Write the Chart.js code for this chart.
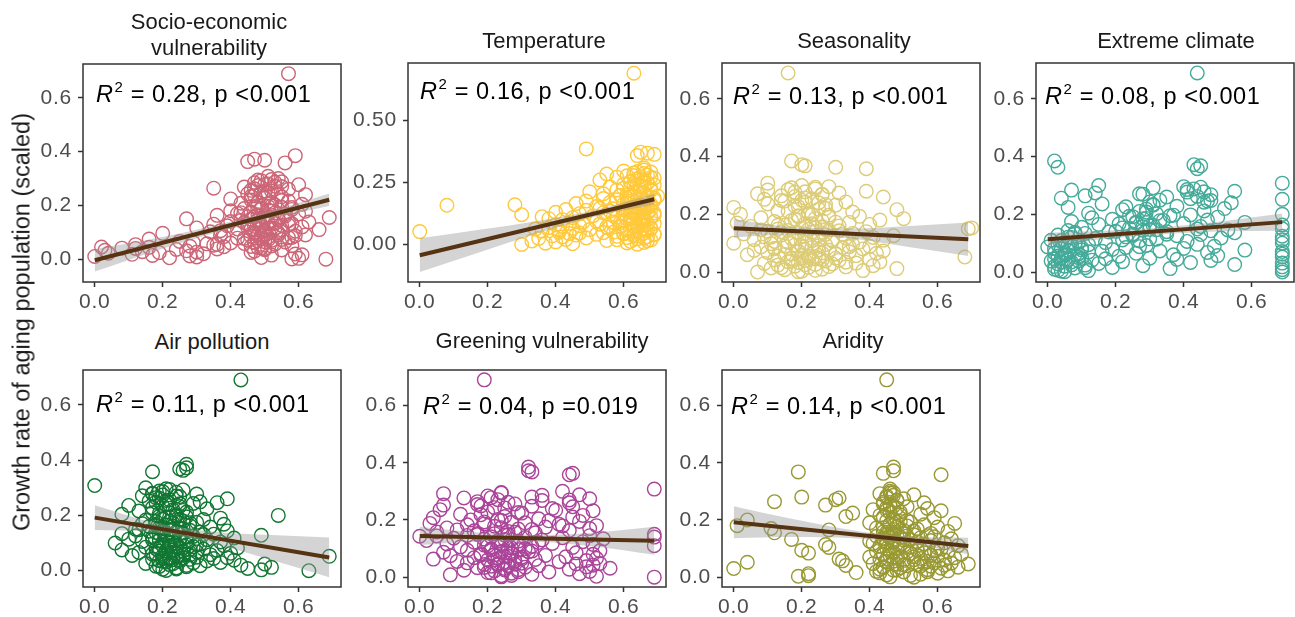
<!DOCTYPE html>
<html><head><meta charset="utf-8">
<script src="https://cdn.jsdelivr.net/npm/chart.js@4"></script>
<style>
html,body{margin:0;padding:0;background:#fff;width:1295px;height:617px;overflow:hidden;position:relative;font-family:"Liberation Sans",Arial,sans-serif;}
canvas{position:absolute;}
.title{position:absolute;font-size:22px;color:#1a1a1a;text-align:center;white-space:nowrap;transform:translate(-50%,-50%);line-height:26px;}
.ann{position:absolute;font-size:23.5px;letter-spacing:0.6px;color:#000;white-space:nowrap;transform:translateY(-50%);line-height:26px;}
.ann sup{font-size:15px;vertical-align:0;position:relative;top:-10px;margin-left:1px;}
.ytitle{position:absolute;left:22px;top:322px;font-size:23.5px;color:#1a1a1a;white-space:nowrap;transform:translate(-50%,-50%) rotate(-90deg);}
</style></head><body>
<script>
// shared response variable (growth rate of aging population, scaled)
const yGrowth = [
0.000,0.003,0.005,0.008,0.010,0.012,0.014,0.016,0.018,0.020,
0.022,0.024,0.026,0.028,0.030,0.031,0.033,0.035,0.036,0.038,
0.040,0.041,0.042,0.044,0.045,0.046,0.047,0.048,0.049,0.050,
0.052,0.054,0.055,0.057,0.058,0.060,0.062,0.063,0.065,0.066,
0.068,0.070,0.071,0.073,0.075,0.076,0.078,0.080,0.082,0.084,
0.085,0.087,0.089,0.090,0.092,0.094,0.096,0.098,
0.100,0.102,0.104,0.106,0.108,0.110,0.112,0.114,0.116,0.118,
0.120,0.122,0.124,0.126,0.128,0.130,0.132,0.134,0.136,0.138,
0.140,0.141,0.143,0.144,0.145,0.146,0.148,0.149,
0.150,0.153,0.155,0.158,0.160,0.163,0.165,0.168,0.170,0.172,
0.175,0.178,0.180,0.183,0.185,0.188,0.190,0.193,0.195,0.198,
0.200,0.204,0.208,0.212,0.216,0.220,0.224,0.228,0.232,0.236,0.240,0.243,0.246,0.249,
0.252,0.256,0.260,0.264,0.268,0.271,0.274,0.277,0.280,0.284,0.288,0.292,0.296,0.300,
0.308,0.358,0.363,0.368,0.372,0.385,0.690,
0.001,0.006,0.015,0.019,0.025,0.034,0.039,0.043,
0.056,0.061,0.064,0.072,0.077,0.081,0.088,0.091,0.095,
0.103,0.109,0.111,0.115,0.121,0.127,0.131,0.133,0.139,0.147,
0.152,0.157,0.162,0.167,0.173,0.179,0.186,0.192,0.197,
0.202,0.210,0.218,0.226,0.234,0.242,0.248,
0.254,0.262,0.270,0.278,0.286,0.294
];
const xSocio = [
0.68,0.60,0.22,0.30,0.00,0.28,0.17,0.61,0.11,0.32,
0.04,0.19,0.30,0.14,0.47,0.27,0.03,0.50,0.24,0.36,
0.12,0.08,0.49,0.16,0.02,0.38,0.46,0.28,0.52,0.58,
0.35,0.12,0.36,0.33,0.44,0.40,0.29,0.47,0.50,0.25,
0.48,0.52,0.45,0.55,0.16,0.49,0.42,0.57,0.51,0.38,
0.46,0.59,0.37,0.62,0.48,0.50,0.20,0.54,
0.47,0.34,0.59,0.37,0.50,0.66,0.42,0.53,0.30,0.45,
0.61,0.47,0.39,0.55,0.49,0.35,0.58,0.51,0.44,0.63,
0.40,0.52,0.57,0.43,0.48,0.54,0.50,0.46,
0.27,0.50,0.69,0.45,0.56,0.36,0.48,0.60,0.42,0.53,
0.46,0.62,0.40,0.51,0.58,0.44,0.49,0.55,0.47,0.52,
0.48,0.61,0.43,0.52,0.57,0.46,0.40,0.50,0.55,0.47,0.62,0.45,0.51,0.49,
0.50,0.46,0.57,0.35,0.44,0.53,0.48,0.60,0.51,0.47,0.55,0.49,0.52,0.54,
0.51,0.56,0.45,0.50,0.47,0.59,0.57,
0.58,0.49,0.52,0.59,0.46,0.55,0.50,0.48,
0.53,0.47,0.56,0.51,0.44,0.58,0.49,0.54,0.47,
0.50,0.55,0.46,0.52,0.49,0.57,0.45,0.53,0.51,0.48,
0.54,0.47,0.50,0.56,0.43,0.52,0.49,0.58,0.51,
0.53,0.48,0.55,0.50,0.46,0.54,0.49,
0.52,0.47,0.55,0.50,0.53,0.48
];
const xTemp = [
0.30,0.45,0.37,0.66,0.40,0.62,0.33,0.55,0.68,0.43,
0.64,0.35,0.49,0.61,0.42,0.67,0.58,0.39,0.65,0.46,
0.63,0.52,0.69,0.44,0.60,0.47,0.66,0.54,0.41,0.57,
0.00,0.36,0.63,0.41,0.67,0.50,0.34,0.61,0.45,0.68,
0.38,0.55,0.64,0.42,0.59,0.47,0.66,0.40,0.53,0.69,
0.44,0.62,0.57,0.48,0.65,0.52,0.60,0.66,
0.42,0.62,0.38,0.66,0.45,0.58,0.36,0.64,0.51,0.69,
0.30,0.60,0.47,0.67,0.54,0.40,0.63,0.56,0.65,0.49,
0.68,0.43,0.61,0.57,0.66,0.53,0.64,0.62,
0.64,0.52,0.68,0.08,0.28,0.60,0.46,0.66,0.56,0.63,
0.49,0.69,0.58,0.65,0.54,0.61,0.67,0.62,0.70,0.59,
0.61,0.54,0.66,0.50,0.64,0.58,0.68,0.62,0.56,0.65,0.69,0.60,0.63,0.67,
0.62,0.66,0.53,0.64,0.69,0.58,0.65,0.61,0.67,0.55,0.63,0.68,0.60,0.66,
0.66,0.64,0.69,0.67,0.65,0.49,0.63,
0.64,0.61,0.67,0.58,0.66,0.63,0.69,0.60,
0.65,0.62,0.68,0.56,0.64,0.67,0.59,0.66,0.63,
0.61,0.68,0.65,0.57,0.64,0.69,0.62,0.66,0.60,0.67,
0.63,0.65,0.68,0.61,0.66,0.64,0.69,0.62,0.67,
0.65,0.63,0.68,0.60,0.66,0.64,0.67,
0.62,0.65,0.68,0.63,0.66,0.64
];
const xSeason = [
0.07,0.20,0.38,0.15,0.26,0.48,0.11,0.22,0.33,0.18,
0.41,0.13,0.24,0.29,0.09,0.36,0.19,0.43,0.16,0.27,
0.21,0.31,0.12,0.40,0.23,0.25,0.17,0.30,0.20,0.22,
0.68,0.24,0.13,0.36,0.20,0.04,0.30,0.17,0.42,0.26,
0.10,0.34,0.19,0.44,0.06,0.28,0.21,0.38,0.12,0.32,
0.23,0.08,0.40,0.15,0.25,0.18,0.35,0.11,
0.00,0.21,0.37,0.12,0.29,0.44,0.06,0.25,0.17,0.33,
0.41,0.09,0.20,0.47,0.14,0.27,0.03,0.35,0.19,0.23,
0.39,0.10,0.31,0.16,0.28,0.08,0.22,0.13,
0.69,0.70,0.24,0.05,0.31,0.15,0.40,0.21,0.01,0.34,
0.12,0.26,0.43,0.18,0.50,0.08,0.28,0.37,0.19,0.23,
0.02,0.22,0.35,0.13,0.48,0.27,0.00,0.18,0.30,0.10,0.25,0.33,0.15,0.20,
0.09,0.21,0.44,0.14,0.26,0.07,0.31,0.18,0.39,0.10,0.24,0.17,0.28,0.20,
0.10,0.39,0.30,0.21,0.20,0.17,0.16,
0.19,0.24,0.14,0.28,0.21,0.33,0.17,0.26,
0.22,0.15,0.30,0.19,0.25,0.12,0.34,0.20,0.27,
0.16,0.23,0.29,0.18,0.11,0.25,0.32,0.21,0.14,0.27,
0.20,0.26,0.13,0.23,0.30,0.17,0.24,0.19,0.28,
0.22,0.16,0.25,0.19,0.27,0.21,0.14,
0.23,0.18,0.26,0.21,0.16,0.24
];
const xExtreme = [
0.69,0.04,0.12,0.69,0.02,0.36,0.08,0.19,0.69,0.05,
0.28,0.11,0.55,0.03,0.15,0.69,0.42,0.07,0.22,0.01,
0.48,0.13,0.06,0.38,0.02,0.17,0.10,0.30,0.04,0.09,
0.69,0.03,0.21,0.50,0.05,0.37,0.69,0.09,0.26,0.02,
0.47,0.12,0.69,0.33,0.06,0.58,0.19,0.04,0.40,0.10,
0.23,0.00,0.49,0.07,0.29,0.03,0.44,0.08,
0.69,0.17,0.05,0.41,0.27,0.01,0.69,0.32,0.14,0.51,
0.07,0.23,0.69,0.38,0.03,0.45,0.25,0.11,0.55,0.08,
0.35,0.20,0.48,0.06,0.28,0.53,0.30,0.44,
0.69,0.22,0.10,0.45,0.30,0.69,0.15,0.40,0.26,0.58,
0.07,0.33,0.47,0.19,0.28,0.13,0.50,0.24,0.36,0.42,
0.69,0.12,0.29,0.46,0.22,0.52,0.06,0.38,0.31,0.16,0.54,0.30,0.47,0.33,
0.69,0.04,0.35,0.11,0.48,0.27,0.14,0.41,0.55,0.07,0.43,0.31,0.40,0.15,
0.69,0.44,0.03,0.45,0.43,0.02,0.44,
0.05,0.03,0.11,0.02,0.07,0.04,0.09,0.06,
0.03,0.08,0.05,0.16,0.10,0.02,0.27,0.06,0.12,
0.09,0.04,0.22,0.30,0.06,0.25,0.35,0.08,0.18,0.32,
0.24,0.28,0.31,0.21,0.26,0.34,0.29,0.25,0.37,
0.32,0.27,0.29,0.23,0.31,0.46,0.48,
0.42,0.44,0.28,0.46,0.41,0.45
];
const xAir = [
0.63,0.49,0.20,0.45,0.24,0.52,0.27,0.18,0.31,0.43,
0.22,0.50,0.15,0.29,0.37,0.21,0.25,0.33,0.19,0.41,
0.23,0.28,0.17,0.35,0.20,0.26,0.39,0.22,0.30,0.24,
0.69,0.20,0.11,0.28,0.34,0.17,0.24,0.40,0.21,0.13,
0.30,0.19,0.26,0.36,0.08,0.23,0.32,0.18,0.42,0.25,
0.15,0.29,0.22,0.38,0.20,0.27,0.31,0.24,
0.06,0.22,0.37,0.14,0.27,0.19,0.33,0.10,0.25,0.41,
0.17,0.23,0.29,0.12,0.49,0.21,0.35,0.08,0.26,0.18,
0.31,0.24,0.16,0.39,0.20,0.28,0.13,0.22,
0.12,0.25,0.19,0.34,0.16,0.28,0.21,0.38,0.14,0.23,
0.30,0.18,0.26,0.15,0.32,0.20,0.37,0.22,0.27,0.24,
0.54,0.08,0.19,0.27,0.13,0.23,0.33,0.17,0.25,0.10,0.21,0.29,0.36,0.31,
0.16,0.22,0.39,0.18,0.25,0.14,0.20,0.30,0.17,0.24,0.19,0.26,0.21,0.15,
0.00,0.17,0.26,0.25,0.27,0.27,0.43,
0.21,0.24,0.19,0.27,0.23,0.20,0.25,0.22,
0.26,0.18,0.23,0.21,0.28,0.19,0.24,0.22,0.30,
0.20,0.25,0.17,0.23,0.27,0.21,0.32,0.19,0.24,0.22,
0.26,0.20,0.23,0.18,0.28,0.22,0.25,0.21,0.19,
0.24,0.17,0.26,0.22,0.20,0.25,0.18,
0.21,0.19,0.24,0.17,0.20,0.22
];
const xGreen = [
0.69,0.52,0.24,0.09,0.33,0.47,0.27,0.20,0.38,0.50,
0.22,0.13,0.29,0.44,0.25,0.56,0.17,0.31,0.49,0.21,
0.35,0.26,0.51,0.19,0.28,0.46,0.23,0.53,0.30,0.14,
0.25,0.41,0.11,0.28,0.49,0.20,0.34,0.04,0.23,0.52,
0.16,0.30,0.43,0.26,0.09,0.37,0.22,0.51,0.18,0.27,
0.46,0.07,0.32,0.24,0.53,0.14,0.29,0.21,
0.31,0.27,0.45,0.12,0.33,0.69,0.19,0.51,0.08,0.39,
0.23,0.16,0.48,0.29,0.02,0.36,0.25,0.54,0.10,0.42,
0.69,0.21,0.00,0.05,0.50,0.14,0.26,0.17,
0.69,0.17,0.34,0.05,0.26,0.44,0.11,0.29,0.50,0.08,
0.37,0.22,0.52,0.14,0.41,0.03,0.31,0.19,0.47,0.24,
0.15,0.35,0.04,0.25,0.48,0.12,0.30,0.20,0.51,0.06,0.39,0.22,0.45,0.18,
0.07,0.28,0.44,0.17,0.36,0.23,0.50,0.13,0.33,0.20,0.47,0.07,0.24,0.42,
0.69,0.44,0.45,0.33,0.32,0.32,0.19,
0.24,0.27,0.21,0.29,0.25,0.19,0.26,0.23,
0.28,0.22,0.30,0.25,0.18,0.27,0.24,0.33,0.21,
0.26,0.20,0.29,0.24,0.35,0.23,0.27,0.19,0.31,0.25,
0.22,0.28,0.16,0.33,0.24,0.42,0.19,0.27,0.38,
0.23,0.45,0.18,0.29,0.40,0.25,0.33,
0.17,0.26,0.44,0.21,0.36,0.24
];
const xArid = [
0.53,0.19,0.22,0.45,0.55,0.22,0.60,0.36,0.50,0.42,
0.63,0.47,0.57,0.43,0.00,0.61,0.49,0.66,0.44,0.58,
0.51,0.33,0.62,0.54,0.48,0.69,0.41,0.56,0.64,0.59,
0.04,0.45,0.57,0.32,0.50,0.62,0.43,0.31,0.55,0.48,
0.65,0.40,0.53,0.60,0.46,0.58,0.44,0.67,0.52,0.22,
0.56,0.47,0.63,0.42,0.59,0.20,0.54,0.61,
0.45,0.60,0.28,0.52,0.43,0.66,0.49,0.27,0.56,0.41,
0.62,0.47,0.54,0.40,0.58,0.50,0.17,0.64,0.44,0.55,
0.46,0.59,0.42,0.51,0.57,0.48,0.53,0.45,
0.47,0.58,0.12,0.44,0.63,0.50,0.28,0.54,0.11,0.42,
0.60,0.48,0.01,0.56,0.46,0.65,0.40,0.52,0.49,0.51,
0.04,0.47,0.59,0.33,0.43,0.55,0.35,0.49,0.61,0.41,0.57,0.45,0.51,0.46,
0.27,0.44,0.56,0.12,0.48,0.30,0.50,0.31,0.20,0.45,0.53,0.43,0.47,0.46,
0.46,0.61,0.44,0.19,0.47,0.47,0.45,
0.46,0.52,0.43,0.57,0.48,0.44,0.55,0.50,
0.47,0.53,0.45,0.49,0.58,0.44,0.51,0.46,0.54,
0.48,0.43,0.50,0.56,0.45,0.47,0.52,0.44,0.49,0.46,
0.50,0.45,0.53,0.47,0.44,0.51,0.46,0.48,0.45,
0.47,0.44,0.49,0.46,0.45,0.48,0.47,
0.46,0.44,0.48,0.45,0.47,0.46
];

// fitted lines (value at x = 0 and x = 0.69)
const fitX = [0, 0.69];
const fitSocio = [-0.004, 0.221];
const fitTemp = [-0.043, 0.182];
const fitSeason = [0.152, 0.114];
const fitExtreme = [0.114, 0.173];
const fitAir = [0.192, 0.048];
const fitGreen = [0.144, 0.127];
const fitArid = [0.192, 0.109];

// confidence band read at these x positions
const bandX = [0, 0.17, 0.35, 0.52, 0.69];
const loSocio = [-0.046, 0.027, 0.096, 0.151, 0.198];
const hiSocio = [0.038, 0.075, 0.124, 0.179, 0.244];
const loTemp = [-0.111, -0.034, 0.046, 0.114, 0.160];
const hiTemp = [0.025, 0.058, 0.096, 0.140, 0.204];
const loSeason = [0.120, 0.130, 0.115, 0.086, 0.056];
const hiSeason = [0.184, 0.156, 0.151, 0.160, 0.172];
const loExtreme = [0.092, 0.115, 0.132, 0.141, 0.143];
const hiExtreme = [0.136, 0.143, 0.156, 0.177, 0.203];
const loAir = [0.147, 0.139, 0.097, 0.039, -0.024];
const hiAir = [0.237, 0.175, 0.141, 0.129, 0.120];
const loGreen = [0.112, 0.124, 0.123, 0.106, 0.078];
const hiGreen = [0.176, 0.156, 0.147, 0.156, 0.176];
const loArid = [0.136, 0.140, 0.136, 0.117, 0.080];
const hiArid = [0.248, 0.204, 0.164, 0.141, 0.138];

// tick values and labels
const xTickVals = [0, 0.2, 0.4, 0.6];
const xTickLabels = ['0.0', '0.2', '0.4', '0.6'];
const yTickVals = [0, 0.2, 0.4, 0.6];
const yTickLabels = ['0.0', '0.2', '0.4', '0.6'];
const yTickValsTemp = [0, 0.25, 0.5];
const yTickLabelsTemp = ['0.00', '0.25', '0.50'];

const panelTitles = ['Socio-economic<br>vulnerability', 'Temperature', 'Seasonality', 'Extreme climate',
  'Air pollution', 'Greening vulnerability', 'Aridity'];
const r2Values = ['0.28', '0.16', '0.13', '0.08', '0.11', '0.04', '0.14'];
const pValues = ['<0.001', '<0.001', '<0.001', '<0.001', '<0.001', '=0.019', '<0.001'];

const FONT = '"Liberation Sans", Arial, sans-serif';
const LINE_COLOR = '#563312';
const PADL = 70, PADT = 10, PADR = 10, PADB = 40;

const boxBorder = {
  id: 'boxBorder',
  beforeDraw(chart) { chart.ctx.letterSpacing = '0.8px'; },
  afterDatasetsDraw(chart) {
    const {ctx, chartArea: a} = chart;
    ctx.save();
    ctx.strokeStyle = '#333333';
    ctx.lineWidth = 1.5;
    ctx.strokeRect(a.left, a.top, a.right - a.left, a.bottom - a.top);
    ctx.restore();
  }
};

function pairs(xs, ys) { return xs.map((x, i) => ({x: x, y: ys[i]})); }

function makePanel(idx, box, xs, fit, lo, hi, color, yMin, yMax, yVals, yLabels, titlePos, annPos) {
  const l = Math.round(box[0]), t = Math.round(box[1]), r = Math.round(box[2]), b = Math.round(box[3]);
  const cv = document.createElement('canvas');
  const w = r - l + PADL + PADR, h = b - t + PADT + PADB;
  cv.width = w; cv.height = h;
  cv.style.left = (l - PADL) + 'px'; cv.style.top = (t - PADT) + 'px';
  cv.style.width = w + 'px'; cv.style.height = h + 'px';
  document.body.appendChild(cv);

  const tickFont = {family: FONT, size: 21};
  const grid = {display: true, drawOnChartArea: false, drawTicks: true, tickLength: 5, tickColor: '#333333', tickWidth: 1.5};

  new Chart(cv, {
    type: 'scatter',
    data: {
      datasets: [
        {type: 'scatter', data: pairs(xs, yGrowth), pointStyle: 'circle', pointRadius: 6.8, pointBorderWidth: 1.4,
         pointBorderColor: color, pointBackgroundColor: 'rgba(0,0,0,0)', borderColor: color, showLine: false, order: 3},
        {type: 'line', data: pairs(bandX, lo), borderWidth: 0, borderColor: 'rgba(0,0,0,0)', pointRadius: 0,
         fill: false, cubicInterpolationMode: 'monotone', order: 2},
        {type: 'line', data: pairs(bandX, hi), borderWidth: 0, borderColor: 'rgba(0,0,0,0)', pointRadius: 0,
         fill: 1, backgroundColor: 'rgba(153,153,153,0.42)', cubicInterpolationMode: 'monotone', order: 2},
        {type: 'line', data: pairs(fitX, fit), borderColor: LINE_COLOR, borderWidth: 4, pointRadius: 0,
         fill: false, order: 1}
      ]
    },
    options: {
      responsive: false, animation: false, devicePixelRatio: 1, events: [],
      layout: {padding: {left: 0, top: PADT, right: PADR, bottom: 0}},
      plugins: {legend: {display: false}, tooltip: {enabled: false}, title: {display: false}},
      scales: {
        x: {
          type: 'linear', min: -0.0345, max: 0.7245,
          afterBuildTicks: ax => { ax.ticks = xTickVals.map(v => ({value: v})); },
          afterFit: ax => { ax.height = PADB; ax.paddingLeft = 0; ax.paddingRight = 0; },
          ticks: {autoSkip: false, maxRotation: 0, font: tickFont, color: '#4D4D4D', padding: 3,
                  callback: (v, i) => xTickLabels[i]},
          grid: grid, border: {display: false}
        },
        y: {
          type: 'linear', min: yMin, max: yMax,
          afterBuildTicks: ax => { ax.ticks = yVals.map(v => ({value: v})); },
          afterFit: ax => { ax.width = PADL; ax.paddingTop = 0; ax.paddingBottom = 0; },
          ticks: {autoSkip: false, font: tickFont, color: '#4D4D4D', padding: 6,
                  callback: (v, i) => yLabels[i]},
          grid: grid, border: {display: false}
        }
      }
    },
    plugins: [boxBorder]
  });

  const tdiv = document.createElement('div');
  tdiv.className = 'title';
  tdiv.innerHTML = panelTitles[idx];
  tdiv.style.left = titlePos[0] + 'px'; tdiv.style.top = titlePos[1] + 'px';
  document.body.appendChild(tdiv);

  const adiv = document.createElement('div');
  adiv.className = 'ann';
  const p = pValues[idx].replace('<', '&lt;');
  adiv.innerHTML = '<i>R</i><sup>2</sup> = ' + r2Values[idx] + ', p ' + p;
  adiv.style.left = annPos[0] + 'px'; adiv.style.top = annPos[1] + 'px';
  document.body.appendChild(adiv);
}

makePanel(0, [82.6, 64, 340.6, 281.5], xSocio, fitSocio, loSocio, hiSocio, '#CC6677', -0.085, 0.726, yTickVals, yTickLabels, [209, 35], [96, 95]);
makePanel(1, [407.6, 63, 665.6, 281.5], xTemp, fitTemp, loTemp, hiTemp, '#FFC93C', -0.151, 0.731, yTickValsTemp, yTickLabelsTemp, [544, 41], [420, 92]);
makePanel(2, [721.5, 63, 980.1, 281.5], xSeason, fitSeason, loSeason, hiSeason, '#DDCC77', -0.0345, 0.7245, yTickVals, yTickLabels, [854, 41], [733, 97]);
makePanel(3, [1035.6, 63, 1294, 281.5], xExtreme, fitExtreme, loExtreme, hiExtreme, '#44AA99', -0.0345, 0.7245, yTickVals, yTickLabels, [1176, 41], [1045, 97]);
makePanel(4, [82.6, 370, 340.6, 587], xAir, fitAir, loAir, hiAir, '#117733', -0.059, 0.726, yTickVals, yTickLabels, [212, 342], [96, 405]);
makePanel(5, [407.6, 370, 665.6, 587], xGreen, fitGreen, loGreen, hiGreen, '#AA4499', -0.0345, 0.7245, yTickVals, yTickLabels, [542, 341], [423, 407]);
makePanel(6, [721.5, 370, 980.1, 587], xArid, fitArid, loArid, hiArid, '#999933', -0.0345, 0.7245, yTickVals, yTickLabels, [853, 341], [731, 407]);

const yt = document.createElement('div');
yt.className = 'ytitle';
yt.textContent = 'Growth rate of aging population (scaled)';
document.body.appendChild(yt);
</script>
</body></html>
